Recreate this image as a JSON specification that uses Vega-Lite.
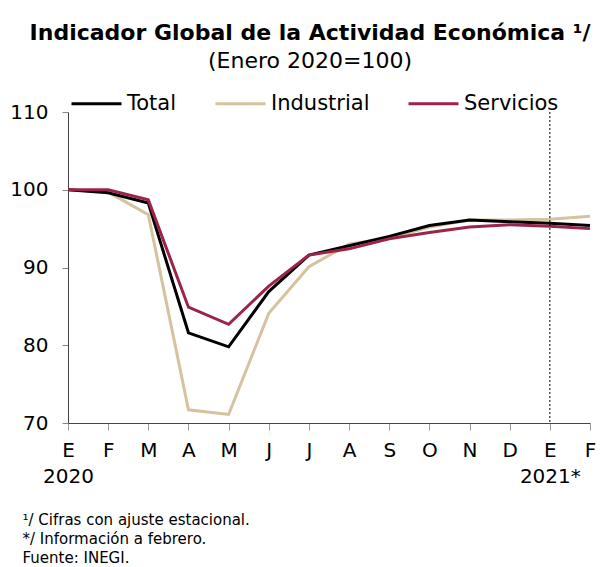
{
  "$schema": "https://vega.github.io/schema/vega-lite/v6.json",
  "width": 522,
  "height": 311,
  "autosize": "none",
  "padding": {"left": 68, "top": 112, "right": 16, "bottom": 144},
  "background": "white",
  "config": {"font": "DejaVu Sans", "view": {"stroke": null}},
  "title": {
    "text": "Indicador Global de la Actividad Económica ¹/",
    "subtitle": "(Enero 2020=100)",
    "anchor": "middle",
    "frame": "group",
    "fontSize": 22,
    "fontWeight": "bold",
    "color": "black",
    "subtitleFontSize": 22,
    "subtitleColor": "black",
    "subtitlePadding": 6,
    "dx": -19,
    "offset": 4
  },
  "layer": [
    {
      "data": {
        "values": [
          {"periodo": "2020-01", "serie": "Industrial", "valor": 100},
          {"periodo": "2020-02", "serie": "Industrial", "valor": 99.7},
          {"periodo": "2020-03", "serie": "Industrial", "valor": 96.8},
          {"periodo": "2020-04", "serie": "Industrial", "valor": 71.7},
          {"periodo": "2020-05", "serie": "Industrial", "valor": 71.1},
          {"periodo": "2020-06", "serie": "Industrial", "valor": 84.1},
          {"periodo": "2020-07", "serie": "Industrial", "valor": 90.1},
          {"periodo": "2020-08", "serie": "Industrial", "valor": 93.0},
          {"periodo": "2020-09", "serie": "Industrial", "valor": 93.8},
          {"periodo": "2020-10", "serie": "Industrial", "valor": 95.2},
          {"periodo": "2020-11", "serie": "Industrial", "valor": 96.1},
          {"periodo": "2020-12", "serie": "Industrial", "valor": 96.1},
          {"periodo": "2021-01", "serie": "Industrial", "valor": 96.2},
          {"periodo": "2021-02", "serie": "Industrial", "valor": 96.6},
          {"periodo": "2020-01", "serie": "Total", "valor": 100},
          {"periodo": "2020-02", "serie": "Total", "valor": 99.6},
          {"periodo": "2020-03", "serie": "Total", "valor": 98.3},
          {"periodo": "2020-04", "serie": "Total", "valor": 81.6},
          {"periodo": "2020-05", "serie": "Total", "valor": 79.8},
          {"periodo": "2020-06", "serie": "Total", "valor": 86.9},
          {"periodo": "2020-07", "serie": "Total", "valor": 91.6},
          {"periodo": "2020-08", "serie": "Total", "valor": 92.8},
          {"periodo": "2020-09", "serie": "Total", "valor": 94.0},
          {"periodo": "2020-10", "serie": "Total", "valor": 95.4},
          {"periodo": "2020-11", "serie": "Total", "valor": 96.1},
          {"periodo": "2020-12", "serie": "Total", "valor": 95.9},
          {"periodo": "2021-01", "serie": "Total", "valor": 95.7},
          {"periodo": "2021-02", "serie": "Total", "valor": 95.4},
          {"periodo": "2020-01", "serie": "Servicios", "valor": 100},
          {"periodo": "2020-02", "serie": "Servicios", "valor": 100.0},
          {"periodo": "2020-03", "serie": "Servicios", "valor": 98.7},
          {"periodo": "2020-04", "serie": "Servicios", "valor": 84.9},
          {"periodo": "2020-05", "serie": "Servicios", "valor": 82.7},
          {"periodo": "2020-06", "serie": "Servicios", "valor": 87.6},
          {"periodo": "2020-07", "serie": "Servicios", "valor": 91.6},
          {"periodo": "2020-08", "serie": "Servicios", "valor": 92.4},
          {"periodo": "2020-09", "serie": "Servicios", "valor": 93.7},
          {"periodo": "2020-10", "serie": "Servicios", "valor": 94.5},
          {"periodo": "2020-11", "serie": "Servicios", "valor": 95.2},
          {"periodo": "2020-12", "serie": "Servicios", "valor": 95.5},
          {"periodo": "2021-01", "serie": "Servicios", "valor": 95.3},
          {"periodo": "2021-02", "serie": "Servicios", "valor": 95.0}
        ]
      },
      "mark": {"type": "line", "strokeWidth": 3},
      "encoding": {
        "x": {
          "field": "periodo",
          "type": "ordinal",
          "sort": null,
          "scale": {
            "type": "point",
            "padding": 0,
            "domain": ["2020-01","2020-02","2020-03","2020-04","2020-05","2020-06","2020-07","2020-08","2020-09","2020-10","2020-11","2020-12","2021-01","2021-02"]
          },
          "axis": {
            "labelExpr": "datum.value == '2020-01' ? ['E','2020'] : datum.value == '2021-01' ? ['E','2021*'] : substring('EFMAMJJASONDEF', toNumber(substring(datum.value,5,7))-1, toNumber(substring(datum.value,5,7)))",
            "labelAngle": 0,
            "labelFontSize": 20,
            "labelColor": "black",
            "labelPadding": 10,
            "labelLineHeight": 26,
            "labelOverlap": false,
            "labelBound": false,
            "tickSize": 7,
            "tickColor": "#999999",
            "domainColor": "#444444",
            "title": ["¹/ Cifras con ajuste estacional.", "*/ Información a febrero.", "Fuente: INEGI."],
            "titleFontSize": 15,
            "titleFontWeight": "normal",
            "titleColor": "black",
            "titleAnchor": "start",
            "titleAlign": "left",
            "titleBaseline": "top",
            "titleLineHeight": 19,
            "titleX": -46,
            "titleY": 89
          }
        },
        "y": {
          "field": "valor",
          "type": "quantitative",
          "scale": {"domain": [70, 110], "nice": false, "zero": false},
          "axis": {
            "values": [70, 80, 90, 100, 110],
            "title": null,
            "grid": false,
            "labelFontSize": 20,
            "labelColor": "black",
            "labelPadding": 14,
            "tickSize": 6,
            "tickColor": "#888888",
            "domainColor": "#444444"
          }
        },
        "color": {
          "field": "serie",
          "type": "nominal",
          "scale": {"domain": ["Total", "Industrial", "Servicios"], "range": ["#000000", "#D5C29E", "#9D2449"]},
          "legend": {
            "title": null,
            "orient": "none",
            "direction": "horizontal",
            "legendX": 2,
            "legendY": -35,
            "symbolType": "stroke",
            "symbolSize": 2500,
            "symbolStrokeWidth": 3,
            "labelFontSize": 21,
            "labelColor": "black",
            "labelOffset": 4,
            "columnPadding": 32
          }
        }
      }
    },
    {
      "data": {"values": [{"periodo": "2021-01"}]},
      "mark": {"type": "rule", "color": "black", "strokeWidth": 1, "strokeDash": [2, 2]},
      "encoding": {"x": {"field": "periodo", "type": "ordinal"}}
    }
  ]
}
